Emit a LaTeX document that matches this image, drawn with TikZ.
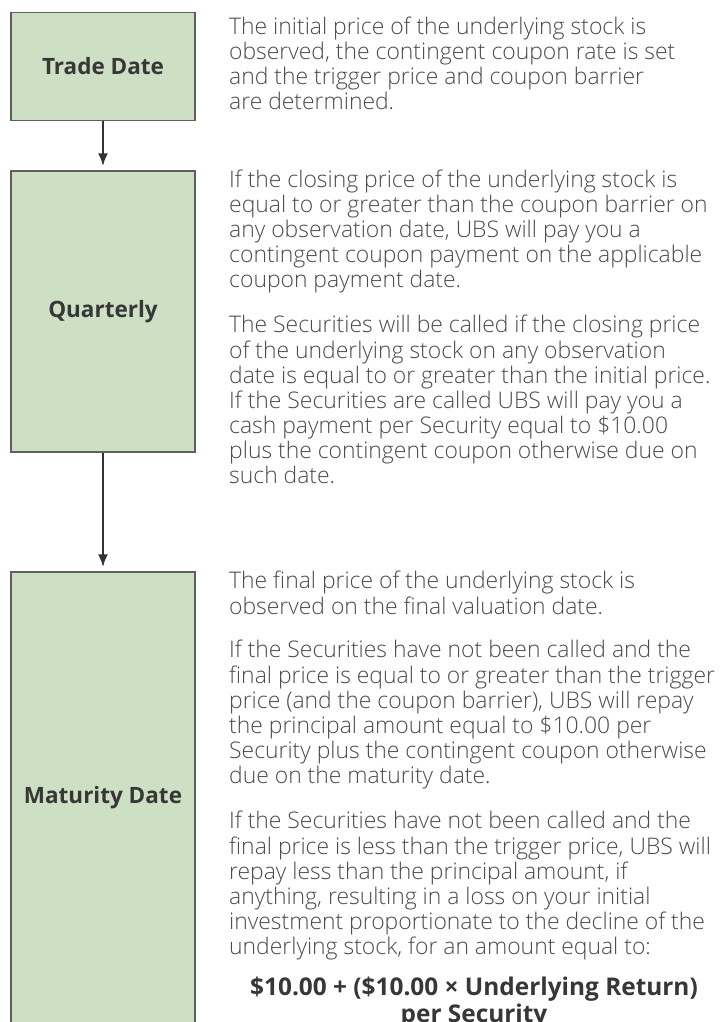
\documentclass[tikz,border=0pt]{standalone}
\usepackage{fontspec}
\setmainfont{Open Sans}
\IfFontExistsTF{Open Sans Light}{\newfontfamily\bodyfont{Open Sans Light}}{\newfontfamily\bodyfont{Open Sans}}
\usetikzlibrary{arrows.meta}
\definecolor{boxfill}{RGB}{205,224,196}
\definecolor{boxline}{RGB}{95,95,95}
\definecolor{bodytext}{RGB}{75,75,75}
\definecolor{labeltext}{RGB}{55,55,55}
\definecolor{arrowcol}{RGB}{50,50,50}
\tikzset{
  stagebox/.style={draw=boxline, line width=1.5pt, fill=boxfill, inner sep=0pt,
    minimum width=184pt, font=\fontsize{22.5}{26}\selectfont\bfseries, text=labeltext},
  para/.style={anchor=north west, inner sep=0pt, align=left, text=bodytext,
    font=\bodyfont\fontsize{22.9}{25}\selectfont},
  formula/.style={anchor=north, inner sep=0pt, align=center, text=labeltext,
    font=\fontsize{24.4}{23.5}\selectfont\bfseries},
  flow/.style={draw=arrowcol, line width=2.4pt, -{Latex[length=13pt,width=10pt]}, shorten >=4pt}
}
\begin{document}
\begin{tikzpicture}[x=1pt,y=-1pt]
\useasboundingbox (0,0) rectangle (722,1022);
\clip (0,0) rectangle (722,1022);
\fill[white] (0,0) rectangle (722,1022);

\node[stagebox, minimum height=108pt] (trade) at (103,66.5) {Trade Date};
\node[stagebox, minimum height=281pt] (quarterly) at (103,311.5) {Quarterly};
\node[stagebox, minimum height=452pt] (maturity) at (103,798) {Maturity Date};

\draw[flow] (trade.south) -- (quarterly.north);
\draw[flow] (quarterly.south) -- (maturity.north);

\node[para] (t1) at (229,17) {\strut The initial price of the underlying stock is\\
observed, the contingent coupon rate is set\\
and the trigger price and coupon barrier\\
are determined.};

\node[para] (q1) at (229,170) {\strut If the closing price of the underlying stock is\\
equal to or greater than the coupon barrier on\\
any observation date, UBS will pay you a\\
contingent coupon payment on the applicable\\
coupon payment date.};

\node[para] (q2) at (229,315) {\strut The Securities will be called if the closing price\\
of the underlying stock on any observation\\
date is equal to or greater than the initial price.\\
If the Securities are called UBS will pay you a\\
cash payment per Security equal to \$10.00\\
plus the contingent coupon otherwise due on\\
such date.};

\node[para] (m1) at (229,571) {\strut The final price of the underlying stock is\\
observed on the final valuation date.};

\node[para] (m2) at (229,640) {\strut If the Securities have not been called and the\\
final price is equal to or greater than the trigger\\
price (and the coupon barrier), UBS will repay\\
the principal amount equal to \$10.00 per\\
Security plus the contingent coupon otherwise\\
due on the maturity date.};

\node[para] (m3) at (229,811) {\strut If the Securities have not been called and the\\
final price is less than the trigger price, UBS will\\
repay less than the principal amount, if\\
anything, resulting in a loss on your initial\\
investment proportionate to the decline of the\\
underlying stock, for an amount equal to:};

\node[formula] (f) at (474,977) {\strut\$10.00 + (\$10.00 × Underlying Return)\\
per Security};
\end{tikzpicture}
\end{document}
